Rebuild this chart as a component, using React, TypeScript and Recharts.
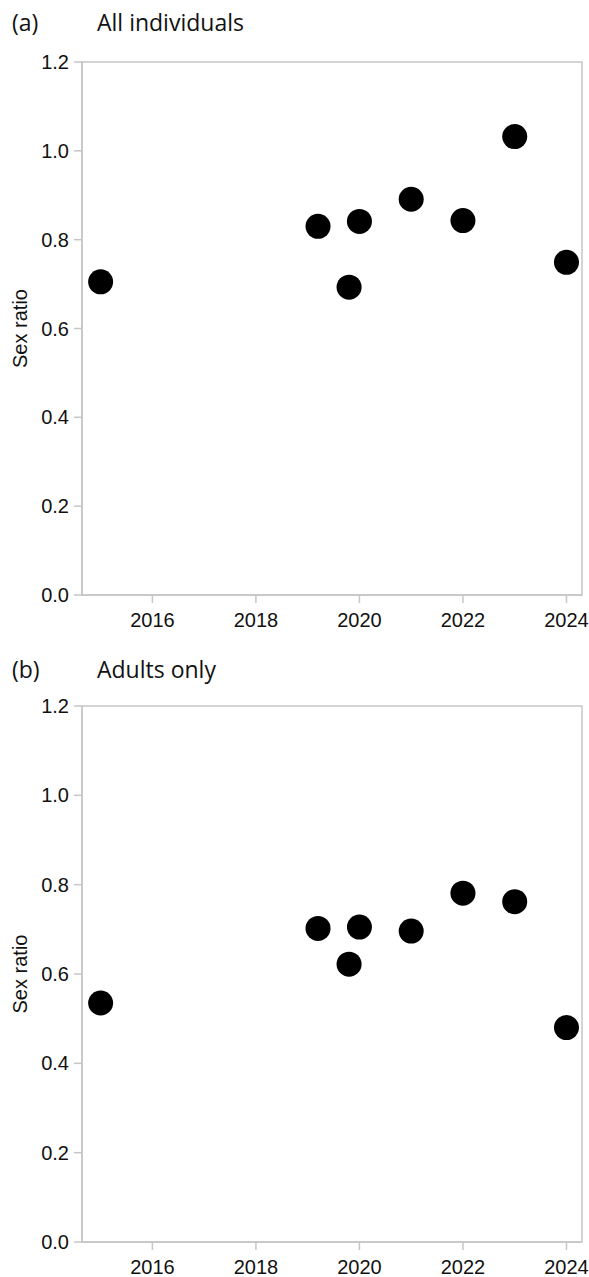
import React from "react";
import {
  ScatterChart,
  Scatter,
  XAxis,
  YAxis,
  ReferenceArea,
} from "recharts";

// Survey years (decimal, two sampling rounds in 2019)
const years = [2015, 2019.2, 2019.8, 2020, 2021, 2022, 2023, 2024];
// Sex ratio, all individuals
const allRatios = [0.705, 0.83, 0.693, 0.841, 0.891, 0.843, 1.032, 0.749];
// Sex ratio, adults only
const adultRatios = [0.535, 0.702, 0.622, 0.705, 0.696, 0.781, 0.762, 0.48];

const xTicks = [2016, 2018, 2020, 2022, 2024];
const yTicks = [0, 0.2, 0.4, 0.6, 0.8, 1.0, 1.2];
const xDomain: [number, number] = [2014.64, 2024.3];
const yDomain: [number, number] = [0, 1.2];

const allData = years.map((year, i) => ({ year, ratio: allRatios[i] }));
const adultData = years.map((year, i) => ({ year, ratio: adultRatios[i] }));

const GRAY = "#c6c6c6";
const ARIAL = "'Liberation Sans', Arial, sans-serif";

const Dot = (props: any) => {
  const { cx, cy } = props;
  return <circle cx={cx} cy={cy} r={12.5} fill="#000" />;
};

function Panel({
  data,
  height,
  marginTop,
  xAxisHeight,
}: {
  data: { year: number; ratio: number }[];
  height: number;
  marginTop: number;
  xAxisHeight: number;
}) {
  return (
    <ScatterChart
      width={589}
      height={height}
      margin={{ top: marginTop, right: 7, bottom: 0, left: 0 }}
      style={{ fontFamily: ARIAL }}
    >
      <ReferenceArea
        x1={xDomain[0]}
        x2={xDomain[1]}
        y1={yDomain[0]}
        y2={yDomain[1]}
        fill="none"
        stroke={GRAY}
        strokeWidth={1.5}
        ifOverflow="visible"
      />
      <XAxis
        type="number"
        dataKey="year"
        domain={xDomain}
        ticks={xTicks}
        allowDataOverflow
        height={xAxisHeight}
        axisLine={{ stroke: GRAY, strokeWidth: 1.5 }}
        tickLine={{ stroke: GRAY, strokeWidth: 1.5 }}
        tickSize={8}
        tickMargin={10}
        tick={{ fill: "#111", fontSize: 20, fontFamily: ARIAL }}
      />
      <YAxis
        type="number"
        dataKey="ratio"
        domain={yDomain}
        ticks={yTicks}
        allowDataOverflow
        width={82}
        axisLine={{ stroke: GRAY, strokeWidth: 1.5 }}
        tickLine={{ stroke: GRAY, strokeWidth: 1.5 }}
        tickSize={8}
        tickMargin={5}
        tick={{ fill: "#111", fontSize: 20, fontFamily: ARIAL }}
        tickFormatter={(v: number) => v.toFixed(1)}
        label={{
          value: "Sex ratio",
          angle: -90,
          position: "insideLeft",
          offset: 20,
          style: {
            textAnchor: "middle",
            fontFamily: ARIAL,
            fontSize: 20,
            fill: "#111",
          },
        }}
      />
      <Scatter data={data} shape={Dot} isAnimationActive={false} />
    </ScatterChart>
  );
}

const titleFont = { fontFamily: "'Open Sans', 'Noto Sans', sans-serif", fontSize: 23, fill: "#111" };

export default function App() {
  return (
    <div
      style={{
        position: "absolute",
        left: 0,
        top: 0,
        width: 589,
        height: 1277,
        background: "#fff",
        overflow: "hidden",
      }}
    >
      <div style={{ position: "absolute", left: 0, top: 0 }}>
        <Panel data={allData} height={648} marginTop={62} xAxisHeight={53} />
      </div>
      <div style={{ position: "absolute", left: 0, top: 648 }}>
        <Panel data={adultData} height={629} marginTop={58} xAxisHeight={35} />
      </div>
      <svg
        width={589}
        height={1277}
        style={{ position: "absolute", left: 0, top: 0, pointerEvents: "none" }}
      >
        <text x={12} y={31} {...titleFont}>(a)</text>
        <text x={97} y={31} {...titleFont}>All individuals</text>
        <text x={12} y={678} {...titleFont}>(b)</text>
        <text x={97} y={678} {...titleFont}>Adults only</text>
      </svg>
    </div>
  );
}
